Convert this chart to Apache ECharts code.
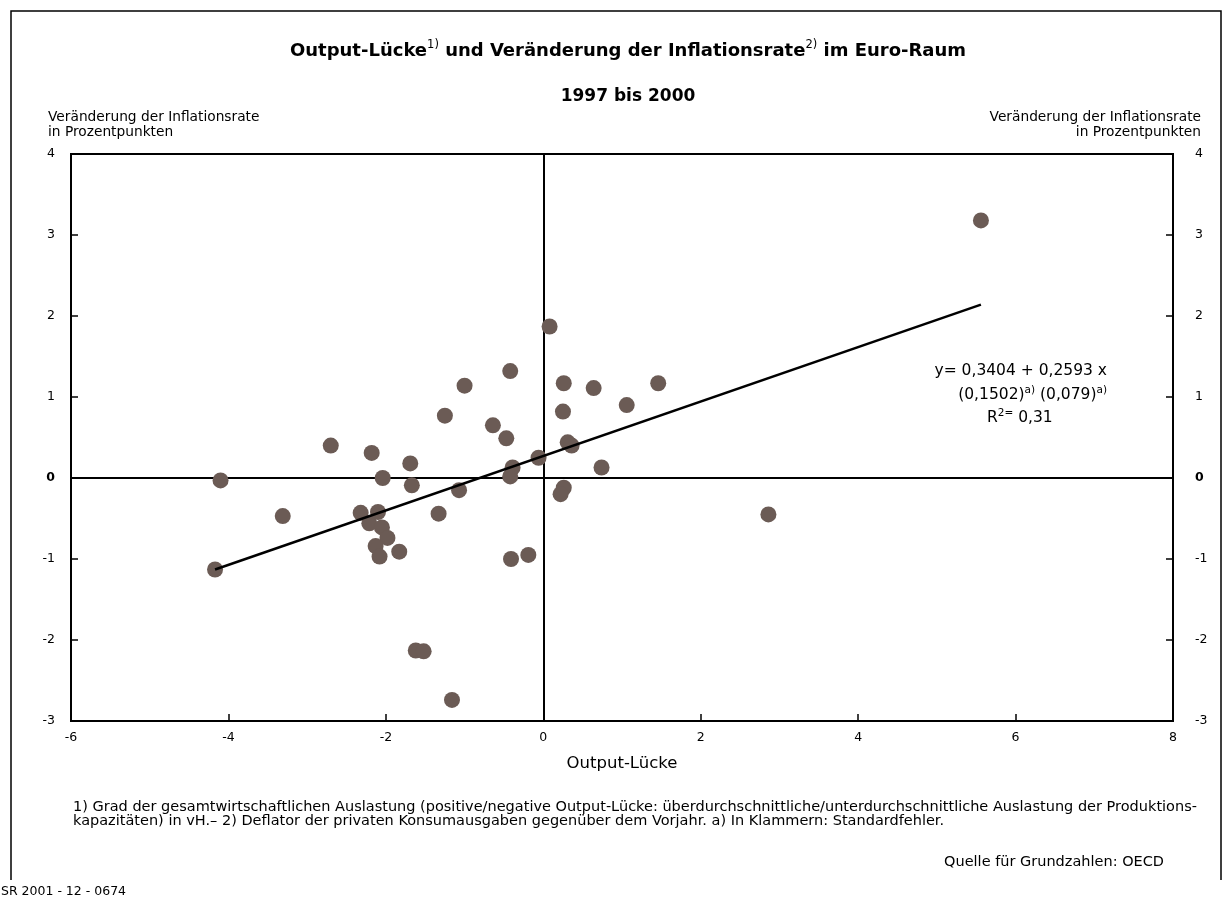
<!DOCTYPE html>
<html>
<head>
<meta charset="utf-8">
<title>Output-Lücke und Veränderung der Inflationsrate im Euro-Raum</title>
<script src="https://cdn.jsdelivr.net/npm/echarts@6/dist/echarts.min.js"></script>
<style>
  html, body { margin: 0; padding: 0; background: #fff; }
  #chart { width: 1223px; height: 899px; }
</style>
</head>
<body>
<div id="chart"></div>
<script>
// Output-Lücke (x) und Veränderung der Inflationsrate (y), Euro-Raum 1997–2000
const gapX = [
  0.08, -0.42, -1.00, 0.26, -1.25, 0.25, -0.64, -0.47, -2.70, -2.18,
  0.31, 0.36, -1.69, -0.06, -0.39, -0.42, -4.10, -2.04, -1.67, -1.07,
  0.26, 0.22, -3.31, -2.32, -2.10, -1.33, -2.21, -2.05, -1.98, -2.13,
  -2.08, -1.83, -0.41, -0.19, -4.17, -1.62, -1.52, -1.16, 1.46, 0.64,
  1.06, 0.74, 2.86, 5.56
];
const inflY = [
  1.87, 1.32, 1.14, 1.17, 0.77, 0.82, 0.65, 0.49, 0.40, 0.31,
  0.44, 0.40, 0.18, 0.25, 0.13, 0.02, -0.03, 0.00, -0.09, -0.15,
  -0.12, -0.20, -0.47, -0.43, -0.42, -0.44, -0.56, -0.61, -0.74, -0.84,
  -0.97, -0.91, -1.00, -0.95, -1.13, -2.13, -2.14, -2.74, 1.17, 1.11,
  0.90, 0.13, -0.45, 3.18
];

// Regressionsgerade (Endpunkte)
const trendX = [-4.17, 5.56];
const trendY = [-1.13, 2.14];

// Achsen
const xTicks = [-6, -4, -2, 0, 2, 4, 6, 8];
const yTicks = [-3, -2, -1, 0, 1, 2, 3, 4];

// Texte
const titleParts = ['Output-Lücke', '1)', ' und Veränderung der Inflationsrate', '2)', ' im Euro-Raum'];
const subTitle = '1997 bis 2000';
const yAxisTitle = ['Veränderung der Inflationsrate', 'in Prozentpunkten'];
const xAxisTitle = 'Output-Lücke';
const equationLines = ['y= 0,3404 + 0,2593 x', ['(0,1502)', 'a)', ' (0,079)', 'a)'], ['R', '2=', ' 0,31']];
const footnotes = [
  '1) Grad der gesamtwirtschaftlichen Auslastung (positive/negative Output-Lücke: überdurchschnittliche/unterdurchschnittliche Auslastung der Produktions-',
  'kapazitäten) in vH.– 2) Deflator der privaten Konsumausgaben gegenüber dem Vorjahr. a) In Klammern: Standardfehler.'
];
const sourceText = 'Quelle für Grundzahlen: OECD';
const chartId = 'SR 2001 - 12 - 0674';

const FONT = '"DejaVu Sans", Verdana, sans-serif';
const DOT = '#6b5b55';

const points = gapX.map((x, i) => [x, inflY[i]]);
const trend = trendX.map((x, i) => [x, trendY[i]]);

const chart = echarts.init(document.getElementById('chart'), null, { renderer: 'canvas' });

const yLabel = {
  fontFamily: FONT, fontSize: 12.5, color: '#000',
  formatter: v => (v === 0 ? '{z|0}' : String(v)),
  rich: { z: { fontFamily: FONT, fontSize: 12.5, fontWeight: 'bold', color: '#000' } }
};

const supStyle = { fontFamily: FONT, fontSize: 10.5, lineHeight: 10, verticalAlign: 'top' };

const option = {
  backgroundColor: '#fff',
  animation: false,
  grid: {
    left: 71, right: 50, top: 154, bottom: 178,
    show: true, borderColor: '#000', borderWidth: 2, backgroundColor: 'transparent'
  },
  xAxis: {
    type: 'value', min: xTicks[0], max: xTicks[xTicks.length - 1], interval: 2,
    position: 'bottom',
    axisLine: { show: true, onZero: false, lineStyle: { color: '#000', width: 2 } },
    axisTick: { show: true, inside: true, length: 7, lineStyle: { color: '#000', width: 1.5 } },
    splitLine: { show: false },
    axisLabel: { fontFamily: FONT, fontSize: 12.5, color: '#000', margin: 10 },
    name: xAxisTitle, nameLocation: 'middle', nameGap: 34,
    nameTextStyle: { fontFamily: FONT, fontSize: 16.5, color: '#000' }
  },
  yAxis: [
    {
      type: 'value', min: yTicks[0], max: yTicks[yTicks.length - 1], interval: 1,
      position: 'left',
      axisLine: { show: true, onZero: false, lineStyle: { color: '#000', width: 2 } },
      axisTick: { show: true, inside: true, length: 7, lineStyle: { color: '#000', width: 1.5 } },
      splitLine: { show: false },
      axisLabel: Object.assign({ margin: 16 }, yLabel)
    },
    {
      type: 'value', min: yTicks[0], max: yTicks[yTicks.length - 1], interval: 1,
      position: 'right',
      axisLine: { show: true, onZero: false, lineStyle: { color: '#000', width: 2 } },
      axisTick: { show: true, inside: true, length: 7, lineStyle: { color: '#000', width: 1.5 } },
      splitLine: { show: false },
      axisLabel: Object.assign({ margin: 22 }, yLabel)
    }
  ],
  series: [
    {
      type: 'scatter', data: points, symbol: 'circle', symbolSize: 16,
      itemStyle: { color: DOT, opacity: 1 },
      z: 3,
      markLine: {
        silent: true, symbol: ['none', 'none'], label: { show: false },
        lineStyle: { color: '#000', width: 2, type: 'solid' },
        data: [{ xAxis: 0 }, { yAxis: 0 }],
        z: 1
      }
    },
    {
      type: 'line', data: trend, showSymbol: false, symbol: 'none',
      lineStyle: { color: '#000', width: 2.5 }, z: 4, silent: true
    }
  ],
  graphic: [
    // Rahmen
    {
      type: 'polyline', silent: true,
      shape: { points: [[11, 880], [11, 11], [1221, 11], [1221, 880]] },
      style: { stroke: '#000', lineWidth: 1.5, fill: null }
    },
    // Titel
    {
      type: 'text', x: 628, y: 51, silent: true,
      style: {
        text: titleParts.map((t, i) => (i % 2 ? '{s|' + t + '}' : '{b|' + t + '}')).join(''),
        align: 'center', verticalAlign: 'middle',
        rich: {
          b: { fontFamily: FONT, fontSize: 18, fontWeight: 'bold', lineHeight: 24, fill: '#000' },
          s: Object.assign({ fill: '#000' }, supStyle, { fontSize: 11.5 })
        }
      }
    },
    {
      type: 'text', x: 628, y: 97, silent: true,
      style: { text: subTitle, align: 'center', verticalAlign: 'middle',
               fontFamily: FONT, fontSize: 17, fontWeight: 'bold', fill: '#000' }
    },
    // Achsentitel links / rechts
    {
      type: 'text', x: 48, y: 125, silent: true,
      style: { text: yAxisTitle.join('\n'), align: 'left', verticalAlign: 'middle',
               fontFamily: FONT, fontSize: 13.75, lineHeight: 15, fill: '#000' }
    },
    {
      type: 'text', x: 1201, y: 125, silent: true,
      style: { text: yAxisTitle.join('\n'), align: 'right', verticalAlign: 'middle',
               fontFamily: FONT, fontSize: 13.75, lineHeight: 15, fill: '#000' }
    },
    // Regressionsgleichung
    {
      type: 'text', x: 1107, y: 371, silent: true,
      style: { text: equationLines[0], align: 'right', verticalAlign: 'middle',
               fontFamily: FONT, fontSize: 15.5, fill: '#000' }
    },
    {
      type: 'text', x: 1107, y: 395, silent: true,
      style: {
        text: equationLines[1].map((t, i) => (i % 2 ? '{s|' + t + '}' : '{n|' + t + '}')).join(''),
        align: 'right', verticalAlign: 'middle',
        rich: {
          n: { fontFamily: FONT, fontSize: 15.5, lineHeight: 20, fill: '#000' },
          s: Object.assign({ fill: '#000' }, supStyle)
        }
      }
    },
    {
      type: 'text', x: 987, y: 418, silent: true,
      style: {
        text: equationLines[2].map((t, i) => (i === 1 ? '{s|' + t + '}' : '{n|' + t + '}')).join(''),
        align: 'left', verticalAlign: 'middle',
        rich: {
          n: { fontFamily: FONT, fontSize: 15.5, lineHeight: 20, fill: '#000' },
          s: Object.assign({ fill: '#000' }, supStyle)
        }
      }
    },
    // Fußnoten
    {
      type: 'text', x: 73, y: 814, silent: true,
      style: { text: footnotes.join('\n'), align: 'left', verticalAlign: 'middle',
               fontFamily: FONT, fontSize: 14.5, lineHeight: 14.5, fill: '#000' }
    },
    {
      type: 'text', x: 1164, y: 862, silent: true,
      style: { text: sourceText, align: 'right', verticalAlign: 'middle',
               fontFamily: FONT, fontSize: 14.5, fill: '#000' }
    },
    {
      type: 'text', x: 1, y: 892, silent: true,
      style: { text: chartId, align: 'left', verticalAlign: 'middle',
               fontFamily: FONT, fontSize: 12.5, fill: '#000' }
    }
  ]
};

chart.setOption(option);
</script>
</body>
</html>
